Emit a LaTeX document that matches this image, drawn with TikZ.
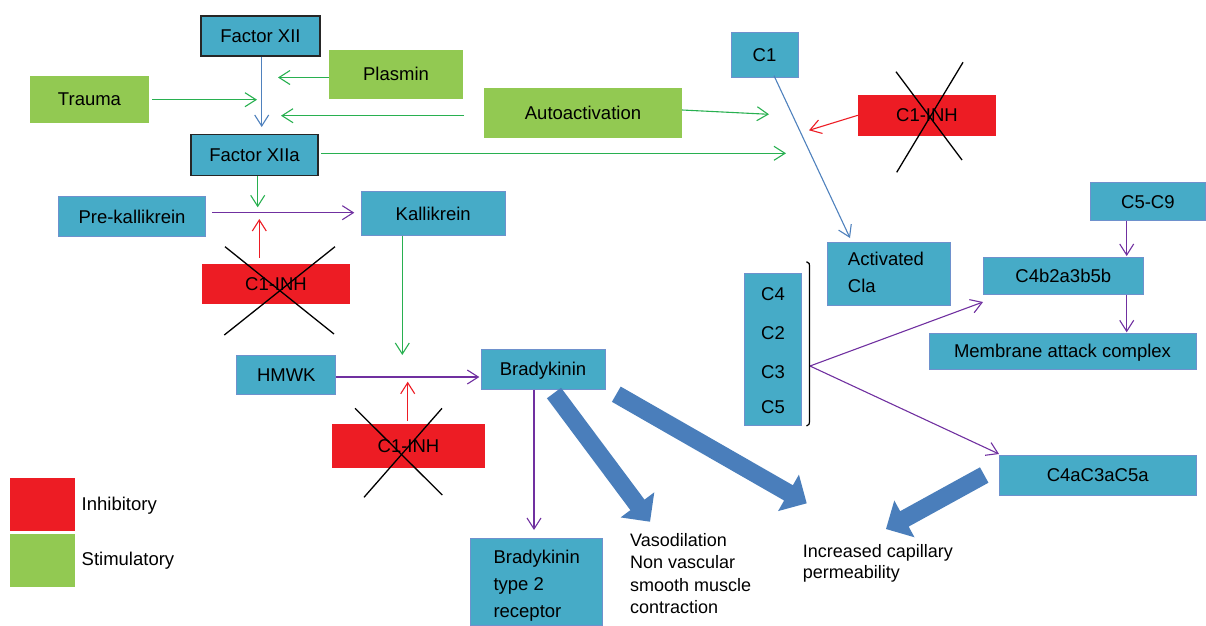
\documentclass[tikz,border=0pt]{standalone}
\usepackage{fontspec}
\setmainfont{Liberation Sans}
\usetikzlibrary{arrows.meta,calc}
\definecolor{bxfill}{RGB}{70,171,199}
\definecolor{bxline}{RGB}{110,145,205}
\definecolor{grfill}{RGB}{146,201,82}
\definecolor{rdfill}{RGB}{237,28,36}
\definecolor{gline}{RGB}{40,176,80}
\definecolor{pline}{RGB}{112,48,160}
\definecolor{bline}{RGB}{79,129,189}
\definecolor{rline}{RGB}{237,28,36}
\definecolor{bigblue}{RGB}{74,126,187}
\newcommand\myfs{\fontsize{18.5}{22}\selectfont}
\newcommand\myfsb{\fontsize{18.5}{26.7}\selectfont}
\newcommand\myblockarrow[2]{%
  \coordinate (bBase) at ($(#2)!21pt!(#1)$);
  \fill[bigblue] ($(#1)!8.8pt!90:(#2)$) -- ($(bBase)!8.8pt!90:(#2)$) -- ($(bBase)!21pt!90:(#2)$)
    -- (#2) -- ($(bBase)!21pt!-90:(#2)$) -- ($(bBase)!8.8pt!-90:(#2)$) -- ($(#1)!8.8pt!-90:(#2)$) -- cycle;}
\tikzset{
  box/.style={fill=bxfill, draw=bxline, line width=1pt, inner sep=0pt, font=\myfs, text height=13.25pt, text depth=0pt},
  kbox/.style={box, draw=black!85, line width=1.4pt},
  gbox/.style={fill=grfill, draw=none, inner sep=0pt, font=\myfs, text height=13.25pt, text depth=0pt},
  rbox/.style={fill=rdfill, draw=none, inner sep=0pt, font=\myfs, text height=13.25pt, text depth=0pt},
  txt/.style={inner sep=0pt, font=\myfs, text height=13.25pt, text depth=0pt},
  mtxt/.style={inner sep=0pt, align=left, anchor=north west},
  con/.style={line width=1.1pt, -{Straight Barb[length=11pt,width=14pt]}},
  gcon/.style={con, gline},
  pcon/.style={con, pline},
  bcon/.style={con, bline},
  rcon/.style={con, rline},
  xline/.style={line width=1.3pt, black},
}
\begin{document}
\begin{tikzpicture}[x=1pt,y=-1pt]
\useasboundingbox (0,0) rectangle (1206,625);

% boxes
\node[kbox, minimum width=119pt, minimum height=40pt] (fxii) at (260.5,36) {Factor XII};
\node[gbox, minimum width=134pt, minimum height=48.7pt] (plasmin) at (396,74.3) {Plasmin};
\node[gbox, minimum width=119pt, minimum height=46.7pt] (trauma) at (89.5,99.3) {Trauma};
\node[gbox, minimum width=198pt, minimum height=49.7pt] (auto) at (583,112.8) {Autoactivation};
\node[kbox, minimum width=127pt, minimum height=40.6pt] (fxiia) at (254.5,155) {Factor XIIa};
\node[box, minimum width=67pt, minimum height=44.6pt] (c1) at (764.5,55) {C1};
\node[rbox, minimum width=138pt, minimum height=40.7pt] (inhA) at (927,115.3) {C1-INH};
\node[box, minimum width=123pt, minimum height=63pt] (acla) at (888.5,274.2) {};
\node[mtxt, font=\myfsb] (aclat) at (847.7,252.3) {Activated\\Cla};
\node[box, minimum width=57.7pt, minimum height=152.4pt] (cbox) at (772.9,349.5) {};
\node[txt] (c4) at (773,293.5) {C4};
\node[txt] (c2) at (773,332.7) {C2};
\node[txt] (c3) at (773,372.3) {C3};
\node[txt] (c5) at (773,407.3) {C5};
\node[box, minimum width=114.3pt, minimum height=38.3pt] (c5c9) at (1147.9,201.8) {C5-C9};
\node[box, minimum width=160pt, minimum height=37.4pt] (c4b) at (1063.3,276) {C4b2a3b5b};
\node[box, minimum width=267pt, minimum height=36pt] (mac) at (1062.5,351.3) {Membrane attack complex};
\node[box, minimum width=196.7pt, minimum height=40pt] (c4a) at (1097.7,475) {C4aC3aC5a};
\node[box, minimum width=146.6pt, minimum height=40.3pt] (prek) at (132,216.8) {Pre-kallikrein};
\node[box, minimum width=143.7pt, minimum height=43.6pt] (kal) at (433.2,213.5) {Kallikrein};
\node[rbox, minimum width=148pt, minimum height=39.7pt] (inhB) at (276,283.8) {C1-INH};
\node[box, minimum width=99.3pt, minimum height=39.3pt] (hmwk) at (286.3,374.7) {HMWK};
\node[box, minimum width=124pt, minimum height=39.7pt] (brady) at (543,369.2) {Bradykinin};
\node[rbox, minimum width=153pt, minimum height=43.7pt] (inhC) at (408.5,445.8) {C1-INH};
\node[box, minimum width=131.7pt, minimum height=86.7pt] (bk2r) at (536.8,581.7) {};
\node[mtxt, font=\myfsb] (bk2rt) at (493.3,550) {Bradykinin\\type 2\\receptor};

% free texts
\node[mtxt, font={\fontsize{18}{22.3}\selectfont}] (vaso) at (630,533.3) {Vasodilation\\Non vascular\\smooth muscle\\contraction};
\node[mtxt, font={\fontsize{18}{21.6}\selectfont}] (perm) at (802.7,544) {Increased capillary\\permeability};

% legend
\node[rbox, minimum width=65pt, minimum height=53pt] (legI) at (42.5,504.2) {};
\node[gbox, minimum width=65pt, minimum height=52.7pt] (legS) at (42.5,560.3) {};
\node[txt, anchor=west] (legIt) at (81.5,503.5) {Inhibitory};
\node[txt, anchor=west] (legSt) at (81.5,559) {Stimulatory};

% coordinates for free ends
\coordinate (pl) at (278,77.5);
\coordinate (tr) at (257,99.7);
\coordinate (au0) at (464,115.7);
\coordinate (au) at (281,115.7);
\coordinate (x12) at (261.7,127);
\coordinate (xa0) at (321,153.3);
\coordinate (xa) at (786,153.3);
\coordinate (au1) at (769,114.3);
\coordinate (ia) at (809,130.3);
\coordinate (c1s) at (774,75.7);
\coordinate (ae) at (850,238);
\coordinate (fk) at (257.7,207.3);
\coordinate (pk0) at (212,212.7);
\coordinate (pk) at (354.3,212.7);
\coordinate (ib) at (259.3,219);
\coordinate (kh) at (402.3,355);
\coordinate (hb0) at (336,377);
\coordinate (hb) at (479.3,377);
\coordinate (ic) at (407.7,381.7);
\coordinate (br) at (534,530);
\coordinate (bra) at (810,366);
\coordinate (c4be) at (983,302);
\coordinate (c4ae) at (999,454);
\coordinate (c59e) at (1126.7,256);
\coordinate (mace) at (1126.7,332.3);

% thin connectors
\draw[gcon] (plasmin.west |- pl) -- (pl);
\draw[gcon] ([xshift=3pt]trauma.east |- tr) -- (tr);
\draw[gcon] (au0) -- (au);
\draw[bcon] (fxii.south -| x12) -- (x12);
\draw[gcon] (xa0) -- (xa);
\draw[gcon] (auto.east) ++(0,-2.8) -- (au1);
\draw[rcon] (inhA.west) -- (ia);
\draw[bcon] (c1s) -- (ae);
\draw[gcon] (fxiia.south -| fk) -- (fk);
\draw[pcon] (pk0) -- (pk);
\draw[rcon] (ib |- 0,257.7) -- (ib);
\draw[gcon] (kal.south -| kh) -- (kh);
\draw[pcon] (hb0) -- (hb);
\draw[rcon] (ic |- 0,420.7) -- (ic);
\draw[pcon] (brady.south -| br) -- (br);
\draw[pcon] (bra) -- (c4be);
\draw[pcon] (bra) -- (c4ae);
\draw[pcon] (c5c9.south -| c59e) -- (c59e);
\draw[pcon] (c4b.south -| mace) -- (mace);

% bracket
\draw[line width=1.2pt] (806.5,261.7) .. controls (809.5,262) and (809.5,264) .. (809.5,268) -- (809.5,420) .. controls (809.5,424) and (809,425.5) .. (806.5,426);

% crosses
\draw[xline] (896,71.7) -- (962,160);
\draw[xline] (963,62.3) -- (896.7,172.3);
\draw[xline] (225,246.7) -- (334,334);
\draw[xline] (335,246.7) -- (224.3,335);
\draw[xline] (355,408.3) -- (442.3,495);
\draw[xline] (442,408.3) -- (364,497.3);

% block arrows
\coordinate (A1s) at (554,393);
\coordinate (A1t) at (650,521.7);
\coordinate (A2s) at (616.3,394.2);
\coordinate (A2t) at (806.7,503.3);
\coordinate (A3s) at (984.2,475);
\coordinate (A3t) at (886,529);
\myblockarrow{A1s}{A1t}
\myblockarrow{A2s}{A2t}
\myblockarrow{A3s}{A3t}
\end{tikzpicture}
\end{document}
